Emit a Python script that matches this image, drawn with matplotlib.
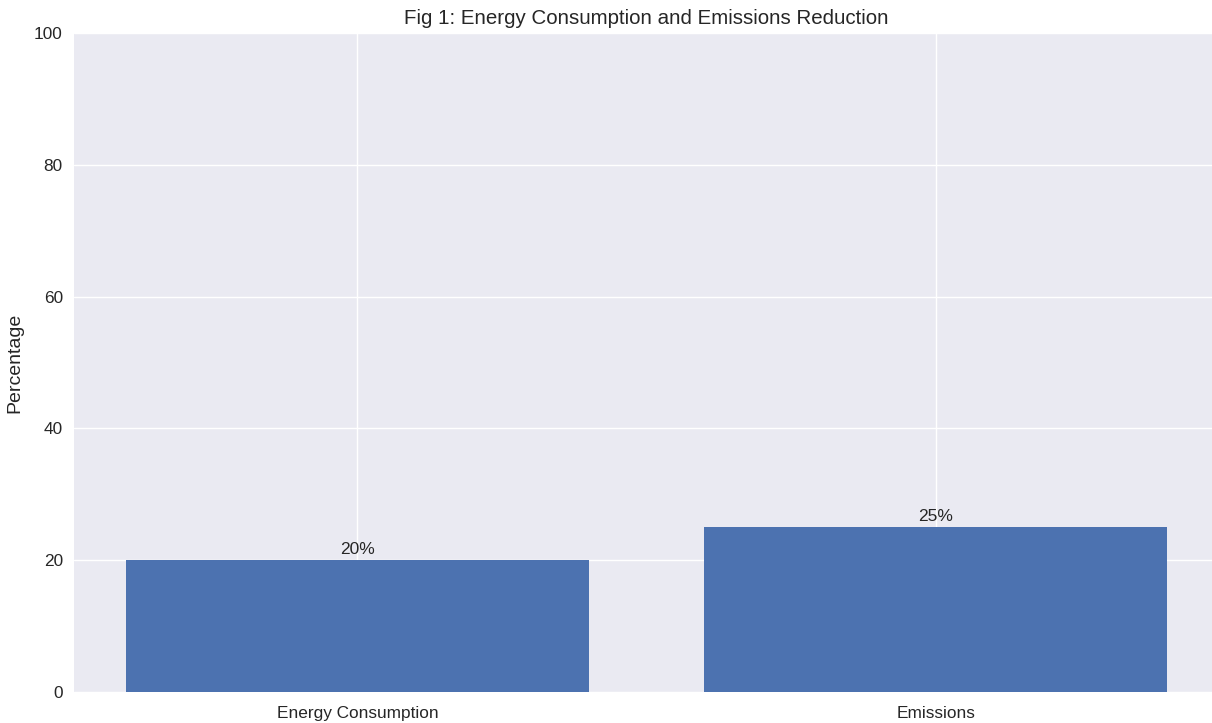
import matplotlib
matplotlib.use('Agg')
import matplotlib.pyplot as plt

# data
categories = ['Energy Consumption', 'Emissions']
percentages = [20, 25]
labels = ['20%', '25%']

plt.style.use('seaborn-v0_8')
plt.rcParams['font.family'] = ['Liberation Sans', 'DejaVu Sans']

fig, ax = plt.subplots(figsize=(12.12, 7.23), dpi=100)
bars = ax.bar(categories, percentages, color='#4C72B0')
for bar, lab in zip(bars, labels):
    ax.text(bar.get_x() + bar.get_width() / 2, bar.get_height() + 0.5, lab,
            ha='center', va='bottom', fontsize=12.5, color='#262626')

ax.set_ylim(0, 100)
ax.set_ylabel('Percentage', fontsize=14, labelpad=8)
ax.set_title('Fig 1: Energy Consumption and Emissions Reduction', fontsize=14.8, pad=7)
ax.tick_params(axis='both', labelsize=12.4, pad=8)
ax.tick_params(axis='x', pad=10)

fig.subplots_adjust(left=0.061, right=1.006, bottom=0.043, top=0.954)
fig.savefig('out.png')
